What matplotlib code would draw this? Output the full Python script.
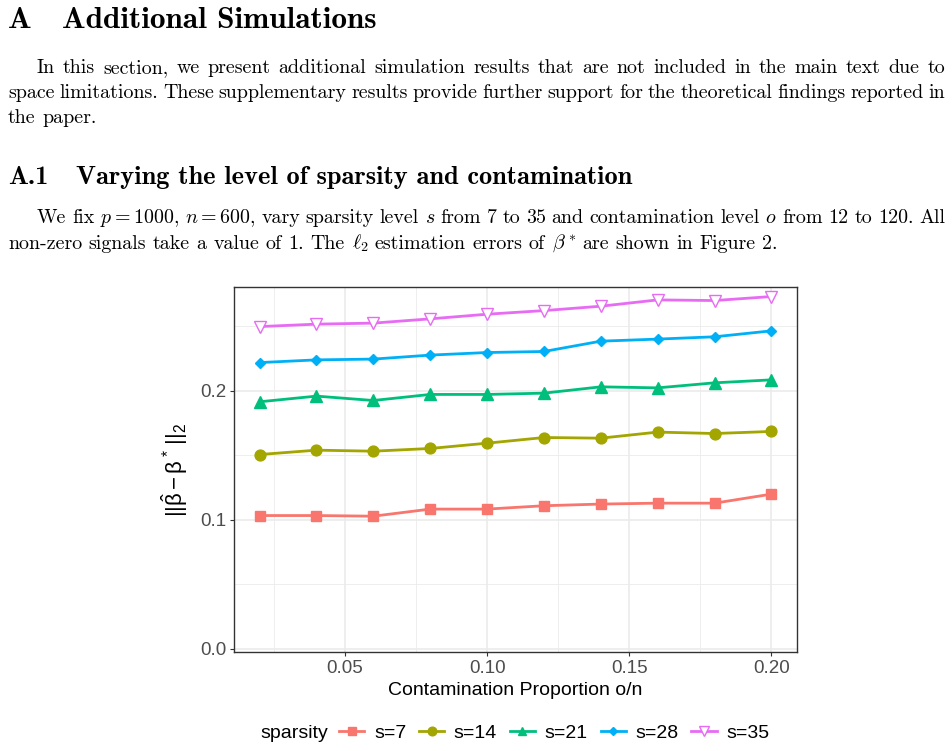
import numpy as np
import matplotlib
matplotlib.use("Agg")
import matplotlib.pyplot as plt
from matplotlib.lines import Line2D

W, H = 953, 751

# data
prop = [0.02, 0.04, 0.06, 0.08, 0.10, 0.12, 0.14, 0.16, 0.18, 0.20]
s7 = [0.1033, 0.1033, 0.1028, 0.1083, 0.1083, 0.1109, 0.1122, 0.1129, 0.1129, 0.1199]
s14 = [0.1506, 0.1540, 0.1532, 0.1553, 0.1594, 0.1638, 0.1633, 0.1680, 0.1669, 0.1685]
s21 = [0.1915, 0.1959, 0.1925, 0.1972, 0.1972, 0.1982, 0.2031, 0.2023, 0.2062, 0.2085]
s28 = [0.2219, 0.2240, 0.2246, 0.2277, 0.2297, 0.2305, 0.2385, 0.2401, 0.2419, 0.2465]
s35 = [0.2498, 0.2517, 0.2525, 0.2558, 0.2594, 0.2622, 0.2656, 0.2705, 0.2700, 0.2731]
labels = ["s=7", "s=14", "s=21", "s=28", "s=35"]
colors = ["#F8766D", "#A3A500", "#00BF7D", "#00B0F6", "#E76BF3"]

# upright sans greek for the y label
plt.rcParams["mathtext.rm"] = "Liberation Sans"
plt.rcParams["mathtext.it"] = "Liberation Sans"
plt.rcParams["mathtext.bf"] = "Liberation Sans:bold"

fig = plt.figure(figsize=(W / 100, H / 100), dpi=100)
renderer = fig.canvas.get_renderer()

body = dict(family="cmr10", math_fontfamily="cm", fontsize=14.4, va="baseline")


def place_words(words, x0, x1, y, justify=True, **kw):
    # put words on one line, stretched between x0 and x1 (pixels)
    texts = [fig.text(0, 1 - y / H, w, **kw) for w in words]
    widths = [t.get_window_extent(renderer).width for t in texts]
    sp = texts[0].get_fontsize() * 100 / 72 * 0.33
    gap = (x1 - x0 - sum(widths)) / (len(words) - 1) if justify else sp
    x = x0
    for t, w in zip(texts, widths):
        t.set_x(x / W)
        x += w + gap


# headings
fig.text(8 / W, 1 - 28 / H, "A", family="cmb10", fontsize=22.5, va="baseline")
fig.text(62 / W, 1 - 28 / H, "Additional Simulations", family="cmb10", fontsize=22.5, va="baseline")
fig.text(8 / W, 1 - 184 / H, "A.1", family="cmb10", fontsize=19, va="baseline")
fig.text(76 / W, 1 - 184 / H, "Varying the level of sparsity and contamination", family="cmb10",
         fontsize=19, va="baseline")

p1 = ["In this section, we present additional simulation results that are not included in the main text due to",
      "space limitations. These supplementary results provide further support for the theoretical findings reported in",
      "the paper."]
place_words(p1[0].split(), 37, 945, 73, **body)
place_words(p1[1].split(), 8, 945, 98, **body)
place_words(p1[2].split(), 8, 945, 123, justify=False, **body)

p2a = ["We", "fix", "$p=1000$,", "$n=600$,", "vary", "sparsity", "level", "$s$", "from", "7", "to", "35", "and",
       "contamination", "level", "$o$", "from", "12", "to", "120.", "All"]
p2b = ["non-zero", "signals", "take", "a", "value", "of", "1.", "The", r"$\ell_2$", "estimation", "errors", "of",
       r"$\beta^*$", "are", "shown", "in", "Figure", "2."]
place_words(p2a, 37, 945, 223, **body)
place_words(p2b, 8, 945, 249, justify=False, **body)

# the chart
ax = fig.add_axes([234 / W, 1 - 652 / H, (797 - 234) / W, (652 - 287) / H])
series = [s7, s14, s21, s28, s35]
markers = ["s", "o", "^", "D", "v"]
msizes = [7.5, 7.8, 8, 4.8, 9]


def style(c, m, ms):
    kw = dict(color=c, lw=2.0, marker=m, ms=ms)
    if m == "v":
        kw.update(mfc="white", mec=c, mew=1.0)
    return kw


for y, c, m, ms, lab in zip(series, colors, markers, msizes, labels):
    ax.plot(prop, y, label=lab, **style(c, m, ms))

ax.set_xlim(0.011, 0.209)
ax.set_ylim(-0.0025, 0.2805)
ax.set_xticks([0.05, 0.10, 0.15, 0.20])
ax.set_xticklabels(["0.05", "0.10", "0.15", "0.20"])
ax.set_xticks([0.025, 0.075, 0.125, 0.175], minor=True)
ax.set_yticks([0.0, 0.1, 0.2])
ax.set_yticklabels(["0.0", "0.1", "0.2"])
ax.set_yticks([0.05, 0.15, 0.25], minor=True)
ax.grid(which="major", color="#EBEBEB", lw=1.2)
ax.grid(which="minor", color="#EBEBEB", lw=0.6)
ax.set_axisbelow(True)
ax.tick_params(which="major", length=3, color="#333333", width=0.8, labelsize=13.5,
               labelcolor="#4D4D4D", pad=2.5, labelfontfamily="Liberation Sans")
ax.tick_params(which="minor", length=0)
for sp in ax.spines.values():
    sp.set_color("#333333")
    sp.set_linewidth(1.0)

ax.set_xlabel("Contamination Proportion o/n", family="Liberation Sans", fontsize=14, labelpad=4)
ax.set_ylabel(r"$||\hat{\beta}\,{-}\,\beta^*\,||_2$", family="Liberation Sans", math_fontfamily="custom",
              fontsize=16, labelpad=7)

# legend along the bottom
fig.text(260 / W, 1 - 733 / H, "sparsity", family="Liberation Sans", fontsize=14, va="center")
handles = [Line2D([], [], **style(c, m, ms * 0.8)) for c, m, ms in zip(colors, markers, msizes)]
fig.legend(handles, labels, loc="center left", bbox_to_anchor=(339 / W, 1 - 733 / H), ncol=5,
           frameon=False, handlelength=1.3, handletextpad=0.5, columnspacing=0.65,
           prop={"family": "Liberation Sans", "size": 14}, borderaxespad=0, borderpad=0)

fig.savefig("out.png", dpi=100)
